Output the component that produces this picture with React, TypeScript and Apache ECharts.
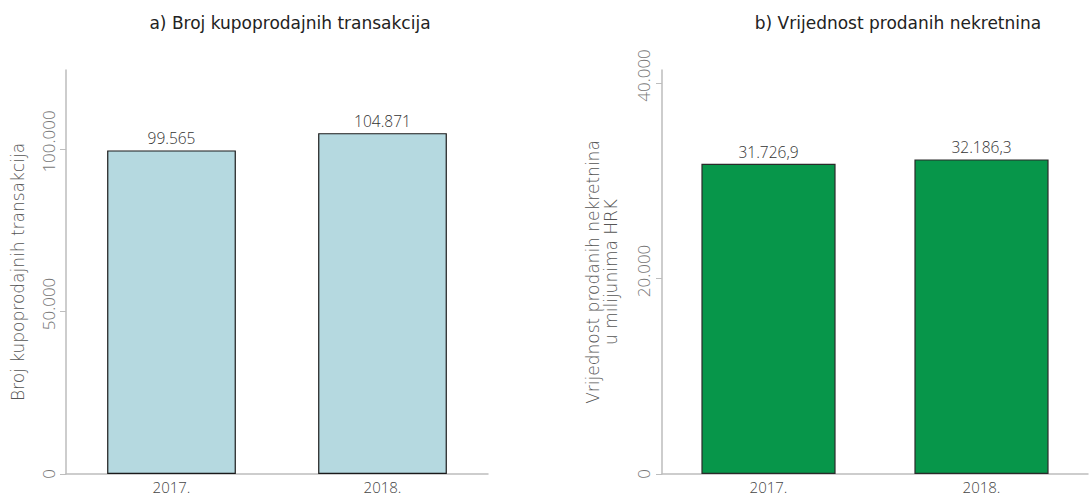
import React, { useEffect, useRef } from "react";
import * as echarts from "echarts";

const categories = ["2017.", "2018."];
const transactions = [99565, 104871];
const valuesHRK = [31726.9, 32186.3];
const leftTicks = [0, 50000, 100000];
const rightTicks = [0, 20000, 40000];
const titleA = "a) Broj kupoprodajnih transakcija";
const titleB = "b) Vrijednost prodanih nekretnina";
const yNameA = "Broj kupoprodajnih transakcija";
const yNameB = "Vrijednost prodanih nekretnina\nu milijunima HRK";

const fmt = (v: number, dec = 0) => {
  const fixed = v.toFixed(dec);
  const [intPart, decPart] = fixed.split(".");
  const withDots = intPart.replace(/\B(?=(\d{3})+(?!\d))/g, ".");
  return decPart ? withDots + "," + decPart : withDots;
};

const NUM_FONT = "'Open Sans', sans-serif";
const TXT_FONT = "'DejaVu Sans', sans-serif";

const tickLabel = (margin: number) => ({
  rotate: 90,
  formatter: (v: number) => (v === 0 ? `{t|0}` : `{s| }{t|${fmt(v)}}`),
  margin,
  rich: {
    s: { width: 15, fontSize: 17 },
    t: { color: "#777", fontSize: 17, fontFamily: NUM_FONT, fontWeight: 300 },
  },
});

export default function App() {
  const ref = useRef<HTMLDivElement>(null);
  useEffect(() => {
    if (!ref.current) return;
    const chart = echarts.init(ref.current, undefined, { renderer: "svg" });
    const axisCommon = {
      axisLine: { show: true, lineStyle: { color: "#bdbdbd", width: 1.5 } },
      splitLine: { show: false },
    };
    const xLabel = { color: "#444", fontSize: 15, margin: 5, fontFamily: NUM_FONT, fontWeight: 300 };
    const titleStyle = { fontFamily: TXT_FONT, fontSize: 17, fontWeight: "normal", color: "#222" };
    const nameStyle = { color: "#555", fontSize: 17, lineHeight: 18, fontFamily: TXT_FONT, fontWeight: 300 };
    const barLabel = { show: true, position: "top", distance: 4, color: "#333", fontSize: 15.5, fontFamily: NUM_FONT, fontWeight: 300 };
    chart.setOption({
      animation: false,
      textStyle: { fontFamily: NUM_FONT },
      title: [
        { text: titleA, left: 285, top: 9, textAlign: "center", textStyle: titleStyle },
        { text: titleB, left: 893, top: 9, textAlign: "center", textStyle: titleStyle },
      ],
      grid: [
        { left: 66, right: 602, top: 70, bottom: 23 },
        { left: 662, right: 2, top: 70, bottom: 23 },
      ],
      xAxis: [
        { type: "category", gridIndex: 0, data: categories, ...axisCommon, axisTick: { show: false }, axisLabel: xLabel },
        { type: "category", gridIndex: 1, data: categories, ...axisCommon, axisTick: { show: false }, axisLabel: xLabel },
      ],
      yAxis: [
        {
          type: "value",
          gridIndex: 0,
          min: 0,
          max: 124300,
          ...axisCommon,
          axisTick: { show: true, length: 6, customValues: leftTicks, lineStyle: { color: "#bdbdbd" } },
          axisLabel: { ...tickLabel(9), customValues: leftTicks },
          name: yNameA,
          nameLocation: "middle",
          nameRotate: 90,
          nameGap: 39,
          nameTextStyle: nameStyle,
        },
        {
          type: "value",
          gridIndex: 1,
          min: 0,
          max: 41330,
          ...axisCommon,
          axisTick: { show: true, length: 6, customValues: rightTicks, lineStyle: { color: "#bdbdbd" } },
          axisLabel: { ...tickLabel(10), customValues: rightTicks },
          name: yNameB,
          nameLocation: "middle",
          nameRotate: 90,
          nameGap: 42,
          nameTextStyle: nameStyle,
        },
      ],
      series: [
        {
          type: "bar",
          xAxisIndex: 0,
          yAxisIndex: 0,
          data: transactions,
          barWidth: "61%",
          itemStyle: { color: "#b5d9e0", borderColor: "#1a1a1a", borderWidth: 1.2 },
          label: { ...barLabel, formatter: (p: any) => fmt(p.value) },
        },
        {
          type: "bar",
          xAxisIndex: 1,
          yAxisIndex: 1,
          data: valuesHRK,
          barWidth: "63%",
          itemStyle: { color: "#07964a", borderColor: "#2a2a2a", borderWidth: 1.2 },
          label: { ...barLabel, formatter: (p: any) => fmt(p.value, 1) },
        },
      ],
    });
    return () => chart.dispose();
  }, []);
  return (
    <div
      ref={ref}
      style={{ position: "fixed", left: 0, top: 0, width: 1090, height: 497, background: "#fff" }}
    />
  );
}
